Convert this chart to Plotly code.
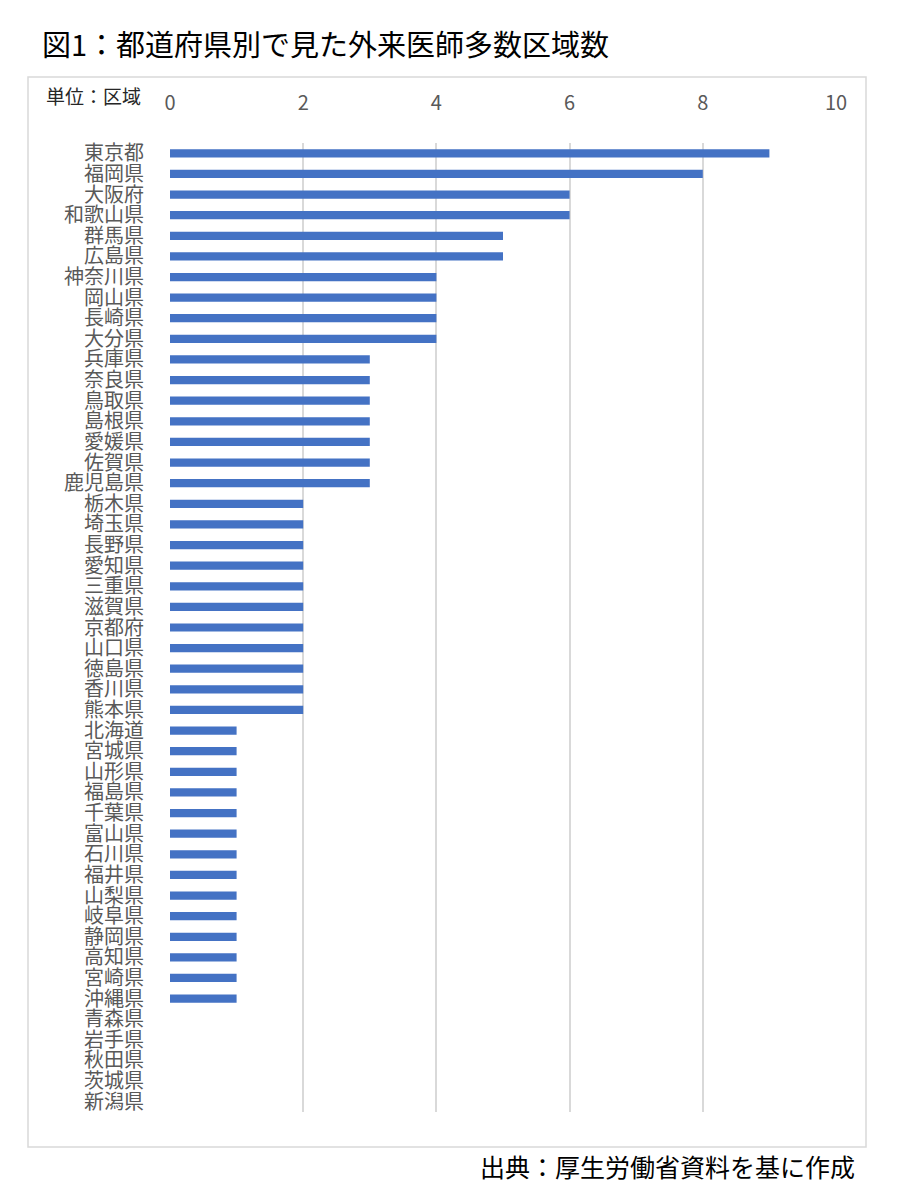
import plotly.graph_objects as go

prefectures = [
    "東京都", "福岡県", "大阪府", "和歌山県", "群馬県", "広島県", "神奈川県", "岡山県", "長崎県", "大分県",
    "兵庫県", "奈良県", "鳥取県", "島根県", "愛媛県", "佐賀県", "鹿児島県",
    "栃木県", "埼玉県", "長野県", "愛知県", "三重県", "滋賀県", "京都府", "山口県", "徳島県", "香川県", "熊本県",
    "北海道", "宮城県", "山形県", "福島県", "千葉県", "富山県", "石川県", "福井県", "山梨県", "岐阜県",
    "静岡県", "高知県", "宮崎県", "沖縄県",
    "青森県", "岩手県", "秋田県", "茨城県", "新潟県",
]
areas = [
    9, 8, 6, 6, 5, 5, 4, 4, 4, 4,
    3, 3, 3, 3, 3, 3, 3,
    2, 2, 2, 2, 2, 2, 2, 2, 2, 2, 2,
    1, 1, 1, 1, 1, 1, 1, 1, 1, 1,
    1, 1, 1, 1,
    0, 0, 0, 0, 0,
]
x_ticks = [0, 2, 4, 6, 8, 10]

title_text = "図1：都道府県別で見た外来医師多数区域数"
unit_text = "単位：区域"
source_text = "出典：厚生労働省資料を基に作成"

FONT = "Noto Sans CJK JP"
GREY = "#595959"

# page body has an 8px default margin; work in reference-page pixels
OFF = 8
W, H = 909 - OFF, 1201 - OFF
plot_left, plot_right, plot_top, plot_bottom = 170, 836, 143, 1112
L = plot_left - OFF
R = W - (plot_right - OFF)
T = plot_top - OFF
B = H - (plot_bottom - OFF)
pw, ph = plot_right - plot_left, plot_bottom - plot_top

def px(x):
    return (x - plot_left) / pw

def py(y):
    return (plot_bottom - y) / ph

fig = go.Figure(
    go.Bar(
        x=areas,
        y=prefectures,
        orientation="h",
        marker=dict(color="#4472C4", line=dict(width=0)),
        hoverinfo="x+y",
    )
)

fig.update_layout(
    width=W,
    height=H,
    margin=dict(l=L, r=R, t=T, b=B),
    paper_bgcolor="white",
    plot_bgcolor="white",
    bargap=0.6,
    showlegend=False,
    font=dict(family=FONT, color=GREY),
    xaxis=dict(
        side="top",
        range=[0, 10],
        tickvals=x_ticks,
        tickfont=dict(size=20, color=GREY),
        showgrid=True,
        gridcolor="#d9d9d9",
        gridwidth=1.5,
        zeroline=False,
        showline=False,
        ticks="outside",
        ticklen=24,
        tickcolor="rgba(0,0,0,0)",
        fixedrange=True,
    ),
    yaxis=dict(
        categoryorder="array",
        categoryarray=prefectures,
        autorange="reversed",
        tickmode="linear",
        dtick=1,
        tickfont=dict(size=20, color=GREY),
        showgrid=False,
        zeroline=False,
        showline=False,
        ticks="outside",
        ticklen=21,
        tickcolor="rgba(0,0,0,0)",
        fixedrange=True,
    ),
    shapes=[
        dict(
            type="rect", xref="paper", yref="paper",
            x0=px(28), x1=px(866), y0=py(1147), y1=py(77),
            line=dict(color="#d9d9d9", width=1.5), fillcolor="rgba(0,0,0,0)",
            layer="below",
        ),
    ],
    annotations=[
        dict(
            text=title_text, xref="paper", yref="paper",
            x=px(40), y=py(43), xanchor="left", yanchor="middle",
            showarrow=False, font=dict(size=29, color="#000000", family=FONT),
        ),
        dict(
            text=unit_text, xref="paper", yref="paper",
            x=px(44), y=py(95), xanchor="left", yanchor="middle",
            showarrow=False, font=dict(size=19, color="#262626", family=FONT),
        ),
        dict(
            text=source_text, xref="paper", yref="paper",
            x=px(857), y=py(1166), xanchor="right", yanchor="middle",
            showarrow=False, font=dict(size=25, color="#000000", family=FONT),
        ),
    ],
)

fig.write_html("out.html")
